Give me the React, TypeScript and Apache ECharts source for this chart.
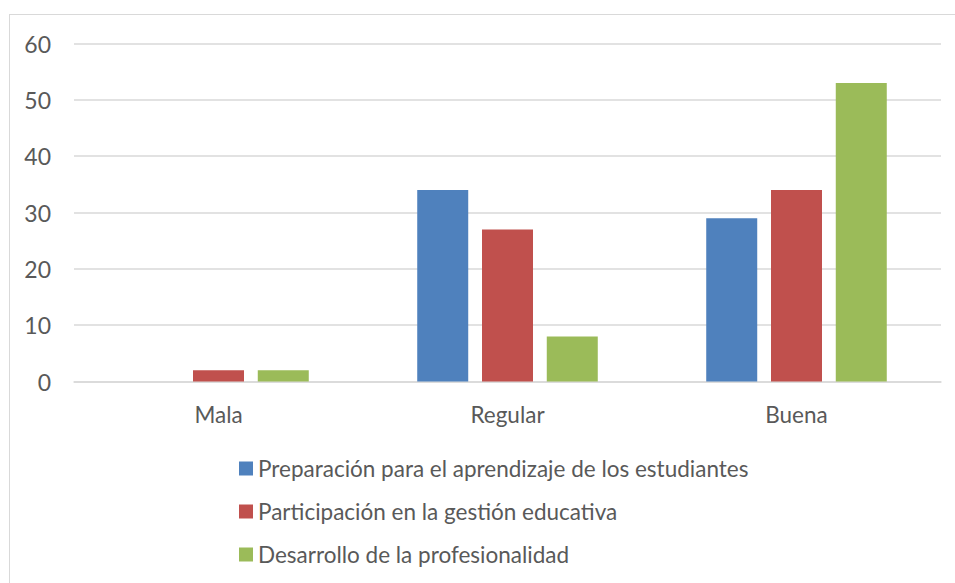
import React, { useEffect, useRef } from "react";
import * as echarts from "echarts";

const categories = ["Mala", "Regular", "Buena"];
const seriesNames = [
  "Preparación para el aprendizaje de los estudiantes",
  "Participación en la gestión educativa",
  "Desarrollo de la profesionalidad",
];
const preparacion = [0, 34, 29];
const participacion = [2, 27, 34];
const desarrollo = [2, 8, 53];
const seriesColors = ["#4F81BD", "#C0504D", "#9BBB59"];

const FONT = "Lato, 'Noto Sans', sans-serif";
const TEXT = "#595959";
const GRID = "#D9D9D9";

export default function App() {
  const ref = useRef<HTMLDivElement>(null);

  useEffect(() => {
    document.body.style.margin = "0";
    if (!ref.current) return;
    const chart = echarts.init(ref.current, undefined, { renderer: "svg" });
    const values = [preparacion, participacion, desarrollo];
    chart.setOption({
      animation: false,
      textStyle: { fontFamily: FONT, color: TEXT },
      grid: { left: 74, right: 14, top: 43.5, bottom: 201.5 },
      legend: {
        orient: "vertical",
        left: 239,
        top: 457,
        padding: 0,
        itemWidth: 14,
        itemHeight: 14,
        itemGap: 20,
        icon: "rect",
        textStyle: { fontFamily: FONT, fontSize: 22.5, color: TEXT },
        data: seriesNames,
      },
      xAxis: {
        type: "category",
        data: categories,
        axisTick: { show: false },
        axisLine: { lineStyle: { color: GRID, width: 1.5 } },
        axisLabel: { fontFamily: FONT, fontSize: 22.5, color: TEXT, margin: 21 },
      },
      yAxis: {
        type: "value",
        min: 0,
        max: 60,
        interval: 10,
        axisLine: { show: false },
        axisTick: { show: false },
        splitLine: { lineStyle: { color: GRID, width: 1.5 } },
        axisLabel: { fontFamily: FONT, fontSize: 23, color: TEXT, margin: 23 },
      },
      series: seriesNames.map((name, i) => ({
        name,
        type: "bar",
        data: values[i],
        barWidth: 51,
        barGap: "27%",
        itemStyle: { color: seriesColors[i] },
      })),
    });
    return () => chart.dispose();
  }, []);

  return (
    <div style={{ position: "relative", width: 955, height: 583, overflow: "hidden", background: "#fff" }}>
      <div
        style={{
          position: "absolute",
          left: 9,
          top: 14,
          width: 1000,
          height: 1000,
          border: "1.5px solid " + GRID,
          boxSizing: "border-box",
        }}
      />
      <div ref={ref} style={{ position: "absolute", left: 0, top: 0, width: 955, height: 583 }} />
    </div>
  );
}
